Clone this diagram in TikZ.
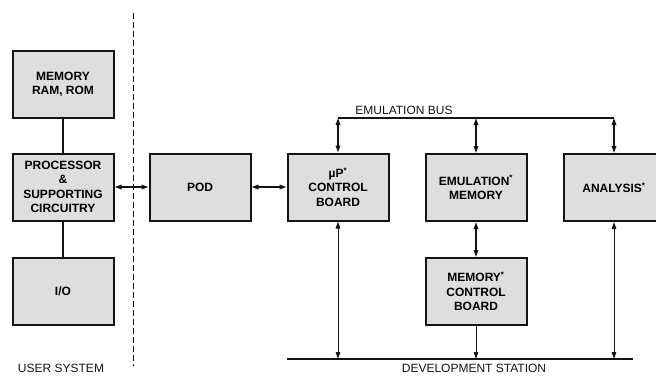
\documentclass[tikz,border=0pt]{standalone}
\usepackage{fontspec}
\setmainfont{Liberation Sans}
\usepackage{xcolor}
\usepackage{tikz}
\usetikzlibrary{arrows.meta}
\definecolor{boxgrey}{RGB}{222,222,222}
\definecolor{inkblack}{RGB}{20,20,20}

\begin{document}
\begin{tikzpicture}[x=1pt,y=-1pt,>={Triangle[length=7pt,width=4.5pt]},
  unit/.style={draw=inkblack,line width=2pt,fill=boxgrey,minimum width=101pt,
    minimum height=67pt,inner sep=0pt,align=center,
    font=\fontsize{12}{14.4}\selectfont\bfseries},
  caption/.style={font=\fontsize{12}{14.4}\selectfont,text=inkblack,inner sep=0pt},
  link/.style={draw=inkblack,line width=1.5pt},
  thinlink/.style={draw=inkblack,line width=1pt}]
  \useasboundingbox (0,0) rectangle (656,375);
  \clip (0,0) rectangle (656,375);
  % user system
  \node[unit] (mem) at (63,84) {MEMORY\\RAM, ROM};
  \node[unit] (proc) at (63,187) {PROCESSOR\\\&\\SUPPORTING\\CIRCUITRY};
  \node[unit] (io) at (63,291) {I/O};
  \draw[inkblack,line width=1pt,dash pattern=on 6pt off 3pt] (133,13)--(133,366);
  % development station
  \node[unit] (pod) at (200,187) {POD};
  \node[unit] (ctrl) at (338,187) {µP\textsuperscript{*}\\CONTROL\\BOARD};
  \node[unit] (emu) at (476,187.5) {EMULATION\textsuperscript{*}\\MEMORY};
  \node[unit] (memctl) at (476,291.5) {MEMORY\textsuperscript{*}\\CONTROL\\BOARD};
  \node[unit] (anal) at (614,187.5) {ANALYSIS\textsuperscript{*}};
  \coordinate (ebus) at (0,118);
  \coordinate (dsL) at (287,359);
  \coordinate (dsR) at (633,359);
  \draw[link] (ctrl.north |- ebus)--(anal.north |- ebus);
  \draw[thinlink,line width=1.3pt] (dsL)--(dsR);
  \draw[link] (mem)--(proc);
  \draw[link] (proc)--(io);
  \draw[link,<->] (proc)--(pod);
  \draw[link,<->] (pod)--(ctrl);
  \draw[link,<->] (ctrl.north |- ebus)--(ctrl);
  \draw[link,<->] (emu.north |- ebus)--(emu);
  \draw[link,<->] (anal.north |- ebus)--(anal);
  \draw[link,<->] (emu)--(memctl);
  \draw[thinlink,<->] (ctrl)--(ctrl.south |- dsL);
  \draw[thinlink,->] (memctl)--(memctl.south |- dsL);
  \draw[thinlink,<->] (anal)--(anal.south |- dsL);
  \node[caption] (ebuslbl) at (404,110) {EMULATION BUS};
  \node[caption] (userlbl) at (61,368) {USER SYSTEM};
  \node[caption] (devlbl) at (474,368.5) {DEVELOPMENT STATION};
\end{tikzpicture}
\end{document}
